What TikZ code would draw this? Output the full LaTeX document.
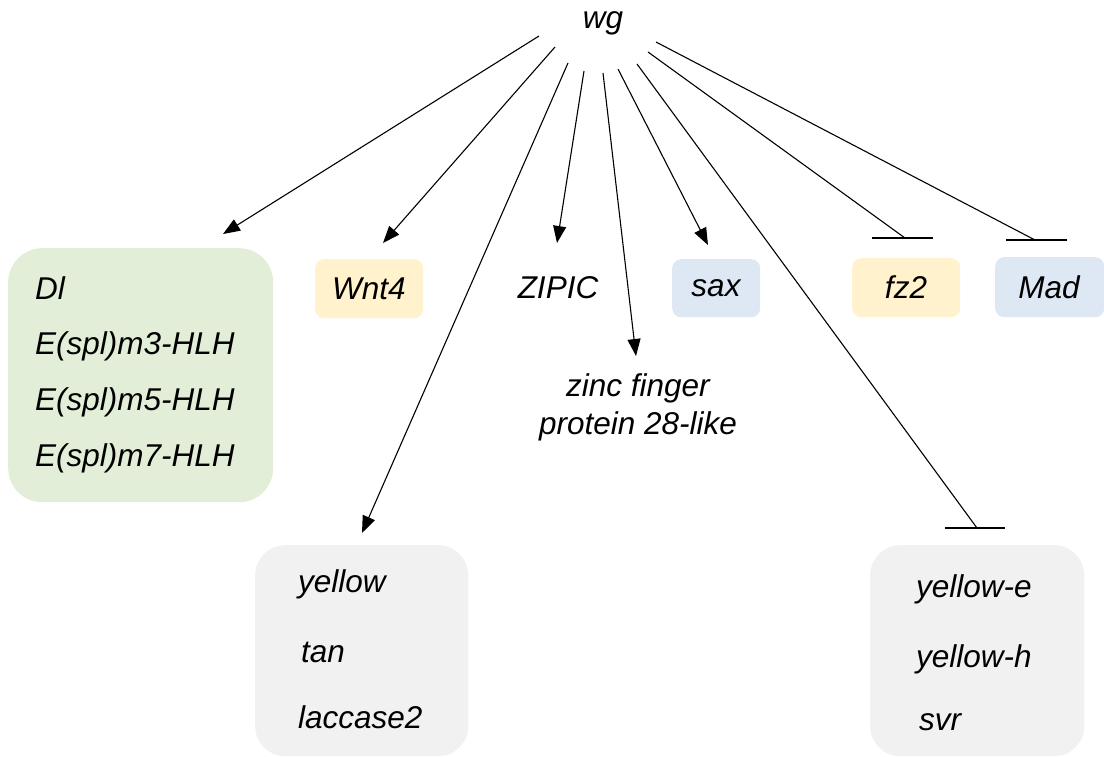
\documentclass[tikz,border=0pt]{standalone}
\usepackage{fontspec}
\setmainfont{Liberation Sans}
\usetikzlibrary{arrows.meta}
\definecolor{gfill}{RGB}{226,238,216}
\definecolor{yfill}{RGB}{255,242,204}
\definecolor{bfill}{RGB}{222,232,245}
\definecolor{kfill}{RGB}{241,241,241}
\begin{document}
\begin{tikzpicture}[x=1pt,y=-1pt,
  lbl/.style={font=\fontsize{31.5}{36}\selectfont\itshape, inner sep=0pt},
  gbox/.style={fill=#1, draw=none, anchor=north west, inner sep=0pt},
  act/.style={-{Triangle[length=17pt,width=13pt]}, line width=1.1pt},
  inh/.style={line width=1.1pt},
]
\useasboundingbox (0,0) rectangle (1104,756);

% boxes
\node[gbox=gfill, rounded corners=34pt, minimum width=265pt, minimum height=254pt] (green) at (8,248) {};
\node[gbox=yfill, rounded corners=9pt, minimum width=108pt, minimum height=59pt] (wntbox) at (315,259) {};
\node[gbox=bfill, rounded corners=9pt, minimum width=88pt, minimum height=58pt] (saxbox) at (672,259) {};
\node[gbox=yfill, rounded corners=9pt, minimum width=108pt, minimum height=59pt] (fzbox) at (852,258) {};
\node[gbox=bfill, rounded corners=9pt, minimum width=109pt, minimum height=60pt] (madbox) at (995,257) {};
\node[gbox=kfill, rounded corners=30pt, minimum width=213pt, minimum height=211pt] (ybox) at (255,545) {};
\node[gbox=kfill, rounded corners=30pt, minimum width=214pt, minimum height=211pt] (yebox) at (870,545) {};

% texts
\node[lbl, anchor=base] (wg) at (603,28) {wg};
\node[lbl, anchor=base west] (dl) at (35,299) {Dl};
\node[lbl, anchor=base west] (m3) at (35,354) {E(spl)m3-HLH};
\node[lbl, anchor=base west] (m5) at (35,410) {E(spl)m5-HLH};
\node[lbl, anchor=base west] (m7) at (35,466) {E(spl)m7-HLH};
\node[lbl, anchor=base] (wnt) at (369,299) {Wnt4};
\node[lbl, anchor=base] (zipic) at (558,298) {ZIPIC};
\node[lbl, anchor=base] (sax) at (716,296) {sax};
\node[lbl, anchor=base] (fz) at (906,298) {fz2};
\node[lbl, anchor=base] (mad) at (1049,298) {Mad};
\node[lbl, anchor=base] (zf1) at (638,396) {zinc finger};
\node[lbl, anchor=base] (zf2) at (638,434) {protein 28-like};
\node[lbl, anchor=base west] (yel) at (298,592) {yellow};
\node[lbl, anchor=base west] (tan) at (301,662) {tan};
\node[lbl, anchor=base west] (lac) at (298,728) {laccase2};
\node[lbl, anchor=base west] (ye) at (916,597) {yellow-e};
\node[lbl, anchor=base west] (yh) at (916,667) {yellow-h};
\node[lbl, anchor=base west] (svr) at (919,730) {svr};

% connector ends
\coordinate (s1) at (539,36);  \coordinate (e1) at (223,234);
\coordinate (s2) at (555,47);  \coordinate (e2) at (383,243);
\coordinate (s3) at (568,63);  \coordinate (e3) at (362,533);
\coordinate (s4) at (584,71);  \coordinate (e4) at (557,243);
\coordinate (s5) at (603,73);  \coordinate (e5) at (636,356);
\coordinate (s6) at (618,69);  \coordinate (e6) at (708,245);
\coordinate (s7) at (637,64);  \coordinate (e7) at (977,528);
\coordinate (b7l) at (945,528); \coordinate (b7r) at (1005,528);
\coordinate (s8) at (648,52);  \coordinate (e8) at (905,238);
\coordinate (b8l) at (872,238); \coordinate (b8r) at (933,238);
\coordinate (s9) at (656,42);  \coordinate (e9) at (1035,240);
\coordinate (b9l) at (1006,240); \coordinate (b9r) at (1067,240);

\draw[act] (s1) -- (e1);
\draw[act] (s2) -- (e2);
\draw[act] (s3) -- (e3);
\draw[act] (s4) -- (e4);
\draw[act] (s5) -- (e5);
\draw[act] (s6) -- (e6);
\draw[inh] (s7) -- (e7); \draw[inh] (b7l) -- (b7r);
\draw[inh] (s8) -- (e8); \draw[inh] (b8l) -- (b8r);
\draw[inh] (s9) -- (e9); \draw[inh] (b9l) -- (b9r);
\end{tikzpicture}
\end{document}
